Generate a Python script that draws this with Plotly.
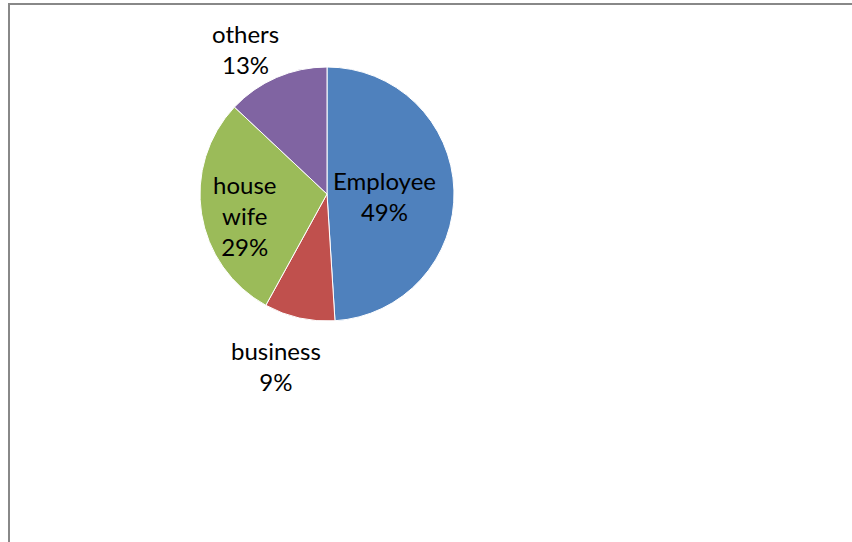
import math
import plotly.graph_objects as go

labels = ["Employee", "business", "house wife", "others"]
label_text = ["Employee", "business", "house<br>wife", "others"]
values = [49, 9, 29, 13]
colors = ["#4F81BD", "#C0504D", "#9BBB59", "#8064A2"]

W, H = 852, 542
cx, cy, r = 327, 194, 127  # pie centre/radius in pixels
# label placement style: (radial factor, angle tweak in degrees, y shift px)
label_style = [(0.45, 0.0, -4), (1.41, 4.0, 0), (0.66, 0.0, -8), (1.30, -6.0, 1)]

fig = go.Figure(go.Pie(
    labels=labels, values=values, sort=False, direction="clockwise",
    rotation=0, marker=dict(colors=colors, line=dict(color="white", width=1)),
    textinfo="none", hoverinfo="label+percent", showlegend=False,
    domain=dict(x=[(cx - r) / W, (cx + r) / W], y=[1 - (cy + r) / H, 1 - (cy - r) / H]),
))

total = sum(values)
cum = 0
annotations = []
for lab, v, (fac, tweak, ysh) in zip(label_text, values, label_style):
    mid = (cum + v / 2) / total * 360 + tweak
    cum += v
    a = math.radians(mid)
    px = cx + fac * r * math.sin(a)
    py = cy - fac * r * math.cos(a)
    pct = round(v / total * 100)
    annotations.append(dict(
        x=px / W, y=1 - py / H, xref="paper", yref="paper", yshift=ysh,
        text=f"{lab}<br>{pct}%", showarrow=False,
        font=dict(family="Lato, Open Sans, sans-serif", size=24, color="#000"),
        xanchor="center", yanchor="middle", align="center",
    ))

fig.update_layout(
    width=W, height=H, margin=dict(l=0, r=0, t=0, b=0),
    paper_bgcolor="white", plot_bgcolor="white",
    annotations=annotations,
    shapes=[dict(type="rect", xref="paper", yref="paper",
                 x0=9 / W, y0=-0.05, x1=1.05, y1=1 - 4 / H,
                 line=dict(color="#888888", width=2))],
)

fig.write_html("out.html")
